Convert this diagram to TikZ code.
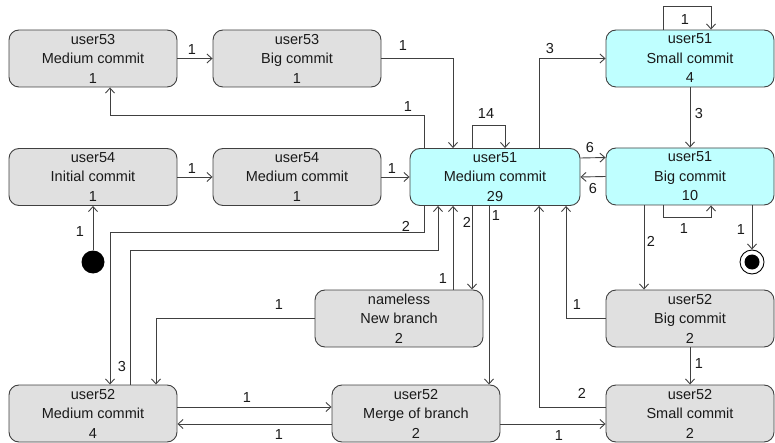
\documentclass[tikz,border=0pt]{standalone}
\usepackage{fontspec}
\setmainfont{Liberation Sans}
\usetikzlibrary{arrows.meta}
\definecolor{stategrey}{HTML}{E0E0E0}
\definecolor{statecyan}{HTML}{BFFFFF}
\definecolor{edgecol}{HTML}{404040}
\definecolor{txtcol}{HTML}{1A1A1A}
\begin{document}
\begin{tikzpicture}[x=1pt,y=-1pt,
  every node/.style={text=txtcol, font=\fontsize{14.5}{19.5}\selectfont},
  state/.style={draw=edgecol, line width=0.9pt, rounded corners=10pt,
    minimum width=168pt, minimum height=57pt, inner sep=0pt, align=center},
  gstate/.style={state, fill=stategrey},
  cstate/.style={state, fill=statecyan},
  arr/.style={draw=edgecol, line width=0.9pt, -{Straight Barb[length=5pt,width=9pt]}},
  lbl/.style={inner sep=0pt}]
\useasboundingbox (0,0) rectangle (775,443);

% states
\node[gstate] (u53m) at (93,58.5)   {user53\\Medium commit\\1};
\node[gstate] (u53b) at (297,58.5)  {user53\\Big commit\\1};
\node[gstate] (u54i) at (93,177)    {user54\\Initial commit\\1};
\node[gstate] (u54m) at (297,177)   {user54\\Medium commit\\1};
\node[cstate, minimum width=170pt] (u51m) at (495,177) {user51\\Medium commit\\29};
\node[cstate] (u51s) at (690,58.5)  {user51\\Small commit\\4};
\node[cstate] (u51b) at (690,176.5) {user51\\Big commit\\10};
\node[gstate] (nb)   at (399,318.5) {nameless\\New branch\\2};
\node[gstate] (u52b) at (690,318.5) {user52\\Big commit\\2};
\node[gstate] (u52m) at (93,413.5)  {user52\\Medium commit\\4};
\node[gstate] (mg)   at (416,413.5) {user52\\Merge of branch\\2};
\node[gstate] (u52s) at (690,413.5) {user52\\Small commit\\2};

% start and end markers
\node[circle, fill=black, minimum size=23pt, inner sep=0pt] (ini) at (93,262) {};
\node[circle, draw=black, line width=0.9pt, fill=white, minimum size=24pt, inner sep=0pt] (fin) at (752,262) {};
\node[circle, fill=black, minimum size=15pt, inner sep=0pt] (finc) at (fin.center) {};

% transitions
\draw[arr] (u53m) -- (u53b);
\draw[arr] (u53b.east) -| ([xshift=-42pt]u51m.north);
\draw[arr] ([xshift=-71pt]u51m.north) -- ++(0,-33) -| ([xshift=17pt]u53m.south);
\draw[arr] ([xshift=-23pt]u51m.north) -- ++(0,-23) -| ([xshift=10pt]u51m.north);
\draw[arr] ([xshift=44pt]u51m.north) |- (u51s.west);
\draw[arr] ([xshift=-27pt]u51s.north) -- ++(0,-23) -| ([xshift=21pt]u51s.north);
\draw[arr] (u51s) -- (u51b);
\draw[arr] (u54i) -- (u54m);
\draw[arr] (u54m.east) -- (u51m.west);
\draw[arr] ([yshift=19pt]u51m.east) -- ([yshift=19pt]u51b.west);
\draw[arr] (u51b.west) -- (u51m.east);
\draw[arr] ([xshift=-27pt]u51b.south) -- ++(0,12) -| ([xshift=21pt]u51b.south);
\draw[arr] ([xshift=62pt]u51b.south) -- (fin.north);
\draw[arr] ([xshift=-46pt]u51b.south) -- ([xshift=-46pt]u52b.north);
\draw[arr] (ini) -- (u54i);
\draw[arr] ([xshift=-71pt]u51m.south) -- ++(0,27) -| ([xshift=17pt]u52m.north);
\draw[arr] ([xshift=37pt]u52m.north) -- ++(0,-134) -| ([xshift=-57pt]u51m.south);
\draw[arr] ([xshift=54pt]nb.north) -- ([xshift=-42pt]u51m.south);
\draw[arr] ([xshift=-23pt]u51m.south) -- ([xshift=73pt]nb.north);
\draw[arr] ([xshift=-6pt]u51m.south) -- ([xshift=73pt]mg.north);
\draw[arr] (nb.west) -| ([xshift=63pt]u52m.north);
\draw[arr] (u52b.west) -| ([xshift=71pt]u51m.south);
\draw[arr] ([yshift=6.5pt]u52s.west) -| ([xshift=44pt]u51m.south);
\draw[arr] (u52b) -- (u52s);
\draw[arr] ([yshift=6.5pt]u52m.east) -- ([yshift=6.5pt]mg.west);
\draw[arr] ([yshift=-10.5pt]mg.west) -- ([yshift=-10.5pt]u52m.east);
\draw[arr] ([yshift=-10.5pt]mg.east) -- ([yshift=-10.5pt]u52s.west);

% transition counts
\node[lbl] (c01) at (192,50)  {1};
\node[lbl] (c02) at (403,46)  {1};
\node[lbl] (c03) at (408,107) {1};
\node[lbl] (c04) at (486,114) {14};
\node[lbl] (c05) at (550,49)  {3};
\node[lbl] (c06) at (685,20)  {1};
\node[lbl] (c07) at (699,114) {3};
\node[lbl] (c08) at (192,169) {1};
\node[lbl] (c09) at (392,169) {1};
\node[lbl] (c10) at (590,148) {6};
\node[lbl] (c11) at (593,189) {6};
\node[lbl] (c12) at (684,229) {1};
\node[lbl] (c13) at (741,230) {1};
\node[lbl] (c14) at (651,241) {2};
\node[lbl] (c15) at (80,232)  {1};
\node[lbl] (c16) at (406,226) {2};
\node[lbl] (c17) at (122,367) {3};
\node[lbl] (c18) at (443,279) {1};
\node[lbl] (c19) at (467,222) {2};
\node[lbl] (c20) at (496,216) {1};
\node[lbl] (c21) at (279,305) {1};
\node[lbl] (c22) at (577,305) {1};
\node[lbl] (c23) at (582,393) {2};
\node[lbl] (c24) at (699,364) {1};
\node[lbl] (c25) at (247,398) {1};
\node[lbl] (c26) at (279,435) {1};
\node[lbl] (c27) at (559,435.5) {1};
\end{tikzpicture}
\end{document}
